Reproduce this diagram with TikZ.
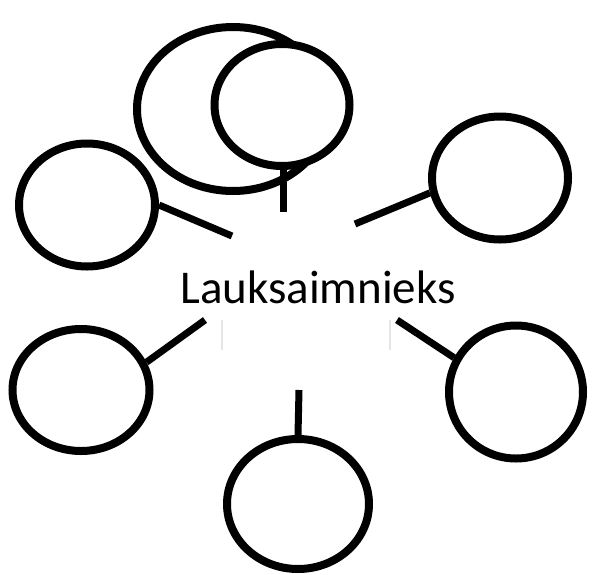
\documentclass[tikz,border=0pt]{standalone}
\usepackage{fontspec}
\setmainfont{Carlito}
\usetikzlibrary{shapes.geometric, positioning}
\tikzset{
	bubble/.style={
			ellipse,
			draw=black,
			line width=8pt,
			fill=white,
			inner sep=0pt
		},
	spoke/.style={
			draw=black,
			line width=7pt
		},
	faintline/.style={
			draw=gray!20,
			line width=1.5pt
		}
}

\begin{document}
\begin{tikzpicture}[x=1pt, y=-1pt]
    \useasboundingbox (0,0) rectangle (592,574);

    \node[bubble, minimum width=192pt, minimum height=164pt] (back) at (233,109) {};
    \node[bubble, minimum width=135pt, minimum height=122pt] (top) at (282,105) {};
    \node[bubble, minimum width=136pt, minimum height=123pt] (left) at (87,205) {};
    \node[bubble, minimum width=136pt, minimum height=123pt] (right) at (500,178) {};
    \node[bubble, minimum width=137pt, minimum height=122pt] (botleft) at (81,390) {};
    \node[bubble, minimum width=134pt, minimum height=133pt] (botright) at (516,392) {};
    \node[bubble, minimum width=142pt, minimum height=130pt] (bottom) at (298,504) {};

    \node[anchor=base, inner sep=0pt, font=\fontsize{47}{54}\selectfont] (hub) at (318,303) {Lauksaimnieks};

    \coordinate (topend) at (283,212);
    \coordinate (leftend) at (232,236);
    \coordinate (rightend) at (355,224);
    \coordinate (botleftend) at (205,320);
    \coordinate (botrightend) at (397,320);
    \coordinate (bottomend) at (299,390);

    \draw[spoke] (top.south) ++(1,0) -- (topend);
    \draw[spoke] (left.east) -- (leftend);
    \draw[spoke] (right.192) -- (rightend);
    \draw[spoke] (botleft.23) -- (botleftend);
    \draw[spoke] (botright.151) -- (botrightend);
    \draw[spoke] (bottom.north) -- (bottomend);

    \coordinate (fa1) at (222,320);
    \coordinate (fa2) at (222,350);
    \coordinate (fb1) at (390,320);
    \coordinate (fb2) at (390,350);
    \draw[faintline] (fa1) -- (fa2);
    \draw[faintline] (fb1) -- (fb2);
\end{tikzpicture}
\end{document}
